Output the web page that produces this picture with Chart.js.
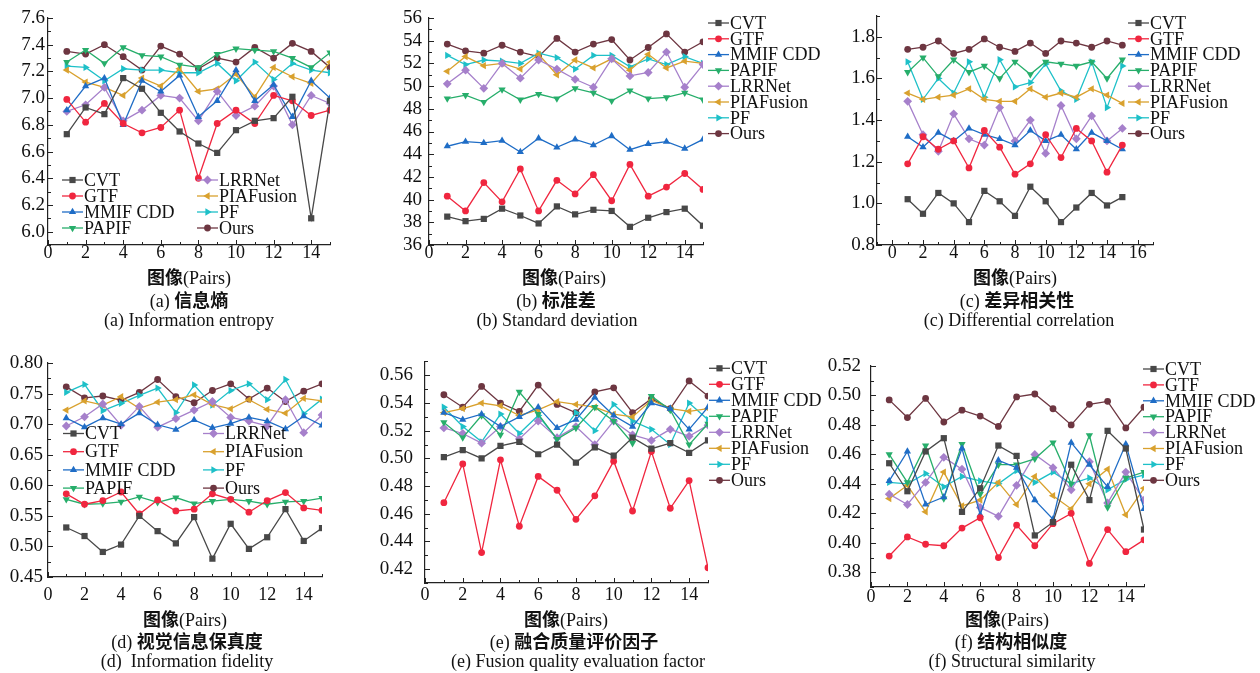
<!DOCTYPE html>
<html>
<head>
<meta charset="utf-8">
<script src="https://cdn.jsdelivr.net/npm/chart.js"></script>
<style>
  body { margin: 0; background: #fff; }
  #page { position: relative; width: 1260px; height: 673px; overflow: hidden; background: #fff;
          font-family: "Liberation Serif", "Noto Sans CJK SC", serif; color: #111; }
  canvas { position: absolute; }
  .cap { position: absolute; white-space: nowrap; transform: translateX(-50%); line-height: 20px; font-size: 18px; }
  .cn { font-family: "Noto Sans CJK SC", sans-serif; font-weight: 700; font-size: 18px; }
</style>
</head>
<body>
<div id="page">
  <canvas id="entropy"></canvas>
  <canvas id="stddev"></canvas>
  <canvas id="diffcorr"></canvas>
  <canvas id="fidelity"></canvas>
  <canvas id="quality"></canvas>
  <canvas id="ssim"></canvas>

  <div class="cap" style="left:189px;top:266px"><span class="cn">图像</span>(Pairs)</div>
  <div class="cap" style="left:189px;top:289px">(a) <span class="cn">信息熵</span></div>
  <div class="cap" style="left:189px;top:310px">(a) Information entropy</div>

  <div class="cap" style="left:564px;top:266px"><span class="cn">图像</span>(Pairs)</div>
  <div class="cap" style="left:556px;top:289px">(b) <span class="cn">标准差</span></div>
  <div class="cap" style="left:557px;top:310px">(b) Standard deviation</div>

  <div class="cap" style="left:1015px;top:266px"><span class="cn">图像</span>(Pairs)</div>
  <div class="cap" style="left:1017px;top:289px">(c) <span class="cn">差异相关性</span></div>
  <div class="cap" style="left:1019px;top:310px">(c) Differential correlation</div>

  <div class="cap" style="left:185px;top:608px"><span class="cn">图像</span>(Pairs)</div>
  <div class="cap" style="left:187px;top:630px">(d) <span class="cn">视觉信息保真度</span></div>
  <div class="cap" style="left:187px;top:651px">(d)&nbsp; Information fidelity</div>

  <div class="cap" style="left:566px;top:608px"><span class="cn">图像</span>(Pairs)</div>
  <div class="cap" style="left:574px;top:630px">(e) <span class="cn">融合质量评价因子</span></div>
  <div class="cap" style="left:578px;top:651px">(e) Fusion quality evaluation factor</div>

  <div class="cap" style="left:1007px;top:608px"><span class="cn">图像</span>(Pairs)</div>
  <div class="cap" style="left:1011px;top:630px">(f) <span class="cn">结构相似度</span></div>
  <div class="cap" style="left:1012px;top:651px">(f) Structural similarity</div>
</div>

<script>
const methods = ['CVT', 'GTF', 'MMIF CDD', 'PAPIF', 'LRRNet', 'PIAFusion', 'PF', 'Ours'];
const pairs = [1, 2, 3, 4, 5, 6, 7, 8, 9, 10, 11, 12, 13, 14, 15];

// one row per method, same order as methods
const entropyData = [
    [6.73, 6.93, 6.88, 7.15, 7.07, 6.89, 6.75, 6.66, 6.59, 6.76, 6.83, 6.85, 7.01, 6.10, 6.98],
    [6.99, 6.82, 6.96, 6.81, 6.74, 6.78, 6.91, 6.40, 6.81, 6.91, 6.81, 7.02, 6.98, 6.87, 6.91],
    [6.91, 7.09, 7.15, 6.80, 7.13, 7.05, 7.17, 6.86, 6.98, 7.21, 6.98, 7.10, 6.86, 7.13, 7.00],
    [7.27, 7.36, 7.26, 7.38, 7.32, 7.31, 7.25, 7.23, 7.33, 7.37, 7.36, 7.35, 7.30, 7.23, 7.34],
    [6.90, 6.95, 7.08, 6.83, 6.91, 7.02, 7.00, 6.83, 7.05, 6.87, 6.94, 7.09, 6.80, 7.02, 6.96],
    [7.21, 7.12, 7.08, 7.02, 7.15, 7.09, 7.22, 7.05, 7.07, 7.18, 7.01, 7.23, 7.16, 7.11, 7.27],
    [7.24, 7.23, 7.13, 7.22, 7.21, 7.21, 7.19, 7.19, 7.26, 7.13, 7.27, 7.14, 7.26, 7.21, 7.19],
    [7.35, 7.33, 7.40, 7.31, 7.21, 7.39, 7.33, 7.22, 7.30, 7.27, 7.38, 7.30, 7.41, 7.35, 7.23]
];
const stdData = [
    [38.5, 38.1, 38.3, 39.2, 38.6, 37.9, 39.4, 38.7, 39.1, 39.0, 37.6, 38.4, 38.9, 39.2, 37.7],
    [40.3, 39.0, 41.5, 39.8, 42.7, 39.0, 41.7, 40.5, 42.2, 39.9, 43.1, 40.3, 41.1, 42.3, 40.9],
    [44.7, 45.1, 45.0, 45.2, 44.2, 45.4, 44.6, 45.3, 44.8, 45.6, 44.4, 44.9, 45.1, 44.5, 45.3],
    [48.9, 49.2, 48.6, 49.7, 48.8, 49.3, 48.9, 49.8, 49.4, 48.7, 49.6, 48.9, 49.0, 49.4, 48.8],
    [50.2, 51.4, 49.8, 52.0, 50.7, 52.3, 51.5, 50.6, 49.9, 52.4, 50.9, 51.2, 53.0, 49.9, 51.9],
    [51.3, 52.6, 51.8, 52.0, 51.5, 52.8, 51.0, 52.3, 51.6, 52.4, 51.4, 52.8, 51.6, 52.2, 52.0],
    [52.7, 51.9, 52.3, 52.2, 52.0, 52.9, 52.5, 51.5, 52.7, 52.7, 51.7, 52.4, 51.9, 52.6, 52.0],
    [53.7, 53.1, 52.9, 53.6, 53.0, 52.6, 54.2, 53.0, 53.7, 54.1, 52.3, 53.4, 54.6, 53.0, 53.9]
];
const diffCorrData = [
    [1.02, 0.95, 1.05, 1.00, 0.91, 1.06, 1.01, 0.94, 1.08, 1.01, 0.91, 0.98, 1.05, 0.99, 1.03],
    [1.19, 1.32, 1.26, 1.30, 1.17, 1.35, 1.27, 1.14, 1.19, 1.33, 1.22, 1.36, 1.30, 1.15, 1.28],
    [1.32, 1.27, 1.34, 1.30, 1.36, 1.33, 1.31, 1.28, 1.35, 1.30, 1.33, 1.26, 1.34, 1.30, 1.26],
    [1.63, 1.70, 1.61, 1.69, 1.63, 1.66, 1.60, 1.68, 1.62, 1.68, 1.67, 1.66, 1.68, 1.60, 1.69],
    [1.49, 1.33, 1.25, 1.43, 1.31, 1.28, 1.46, 1.30, 1.40, 1.24, 1.47, 1.31, 1.42, 1.30, 1.36],
    [1.53, 1.50, 1.51, 1.52, 1.55, 1.50, 1.49, 1.49, 1.55, 1.51, 1.53, 1.51, 1.55, 1.52, 1.48],
    [1.68, 1.50, 1.60, 1.53, 1.68, 1.51, 1.69, 1.56, 1.58, 1.67, 1.54, 1.50, 1.68, 1.46, 1.66],
    [1.74, 1.75, 1.78, 1.72, 1.74, 1.79, 1.75, 1.73, 1.77, 1.72, 1.78, 1.77, 1.75, 1.78, 1.76]
];
const fidelityData = [
    [0.531, 0.517, 0.491, 0.503, 0.550, 0.525, 0.505, 0.548, 0.480, 0.537, 0.496, 0.515, 0.561, 0.509, 0.530],
    [0.586, 0.569, 0.575, 0.589, 0.553, 0.576, 0.558, 0.561, 0.586, 0.577, 0.556, 0.575, 0.588, 0.563, 0.559],
    [0.710, 0.695, 0.710, 0.700, 0.718, 0.699, 0.691, 0.707, 0.694, 0.701, 0.711, 0.705, 0.692, 0.713, 0.698],
    [0.577, 0.569, 0.570, 0.573, 0.581, 0.572, 0.580, 0.570, 0.574, 0.577, 0.574, 0.569, 0.573, 0.574, 0.579],
    [0.697, 0.712, 0.733, 0.698, 0.729, 0.695, 0.709, 0.723, 0.737, 0.711, 0.705, 0.697, 0.740, 0.686, 0.715],
    [0.723, 0.738, 0.731, 0.745, 0.726, 0.736, 0.740, 0.748, 0.732, 0.725, 0.740, 0.724, 0.718, 0.742, 0.738],
    [0.752, 0.765, 0.722, 0.734, 0.747, 0.759, 0.719, 0.764, 0.731, 0.755, 0.766, 0.740, 0.773, 0.717, 0.741],
    [0.761, 0.743, 0.746, 0.739, 0.752, 0.773, 0.745, 0.735, 0.755, 0.766, 0.741, 0.759, 0.737, 0.754, 0.766]
];
const qualityData = [
    [0.501, 0.506, 0.500, 0.509, 0.512, 0.503, 0.510, 0.497, 0.508, 0.502, 0.515, 0.507, 0.511, 0.504, 0.513],
    [0.468, 0.496, 0.432, 0.499, 0.451, 0.487, 0.477, 0.456, 0.473, 0.498, 0.462, 0.505, 0.464, 0.484, 0.421],
    [0.533, 0.528, 0.532, 0.523, 0.530, 0.537, 0.522, 0.528, 0.544, 0.531, 0.523, 0.540, 0.536, 0.521, 0.537],
    [0.526, 0.515, 0.531, 0.517, 0.548, 0.532, 0.514, 0.522, 0.537, 0.527, 0.511, 0.545, 0.535, 0.510, 0.525],
    [0.522, 0.518, 0.511, 0.523, 0.514, 0.527, 0.515, 0.523, 0.510, 0.527, 0.517, 0.513, 0.521, 0.516, 0.524],
    [0.533, 0.536, 0.540, 0.538, 0.531, 0.535, 0.541, 0.539, 0.537, 0.532, 0.530, 0.542, 0.536, 0.534, 0.536],
    [0.537, 0.523, 0.512, 0.532, 0.518, 0.531, 0.514, 0.533, 0.520, 0.539, 0.527, 0.521, 0.510, 0.540, 0.528],
    [0.546, 0.537, 0.552, 0.540, 0.534, 0.553, 0.539, 0.533, 0.548, 0.551, 0.533, 0.543, 0.536, 0.556, 0.545]
];
const ssimData = [
    [0.454, 0.435, 0.462, 0.471, 0.421, 0.437, 0.466, 0.459, 0.405, 0.414, 0.453, 0.429, 0.476, 0.464, 0.409],
    [0.391, 0.404, 0.399, 0.398, 0.410, 0.417, 0.390, 0.412, 0.398, 0.413, 0.420, 0.386, 0.409, 0.394, 0.402],
    [0.442, 0.462, 0.426, 0.431, 0.464, 0.419, 0.456, 0.451, 0.429, 0.416, 0.468, 0.453, 0.438, 0.467, 0.423],
    [0.460, 0.441, 0.466, 0.430, 0.467, 0.433, 0.453, 0.453, 0.457, 0.468, 0.440, 0.473, 0.424, 0.444, 0.448],
    [0.433, 0.426, 0.441, 0.458, 0.450, 0.424, 0.418, 0.439, 0.460, 0.451, 0.436, 0.455, 0.427, 0.448, 0.429],
    [0.430, 0.439, 0.421, 0.448, 0.425, 0.429, 0.441, 0.426, 0.445, 0.432, 0.423, 0.440, 0.450, 0.419, 0.437],
    [0.441, 0.440, 0.447, 0.438, 0.445, 0.442, 0.440, 0.449, 0.441, 0.448, 0.440, 0.444, 0.436, 0.443, 0.446],
    [0.497, 0.485, 0.498, 0.482, 0.490, 0.486, 0.479, 0.499, 0.501, 0.491, 0.480, 0.494, 0.496, 0.478, 0.492]
];

// tick labels
const pairTicks = [0, 2, 4, 6, 8, 10, 12, 14];
const pairTicks16 = [0, 2, 4, 6, 8, 10, 12, 14, 16];
const entropyTicks = [6.0, 6.2, 6.4, 6.6, 6.8, 7.0, 7.2, 7.4, 7.6];
const stdTicks = [36, 38, 40, 42, 44, 46, 48, 50, 52, 54, 56];
const diffCorrTicks = [0.8, 1.0, 1.2, 1.4, 1.6, 1.8];
const fidelityTicks = [0.45, 0.50, 0.55, 0.60, 0.65, 0.70, 0.75, 0.80];
const qualityTicks = [0.42, 0.44, 0.46, 0.48, 0.50, 0.52, 0.54, 0.56];
const ssimTicks = [0.38, 0.40, 0.42, 0.44, 0.46, 0.48, 0.50, 0.52];

// line styles
const colors = ['#484848', '#f0263f', '#1f6dc6', '#27ae6b', '#a680cb', '#d9a12e', '#1ec0c8', '#6d3641'];
const markers = ['rect', 'circle', 'triangle', 'triangle', 'rectRot', 'triangle', 'triangle', 'circle'];
const rotations = [0, 0, 0, 180, 0, 270, 90, 0];
const radii = [4.4, 3.4, 4.2, 4.2, 4.4, 4.2, 4.2, 3.4];

const serif = "'Liberation Serif', 'Times New Roman', serif";
Chart.defaults.font.family = serif;
Chart.defaults.color = '#111';

function drawMarker(ctx, style, rot, x, y, r, color) {
    ctx.save();
    ctx.translate(x, y);
    ctx.rotate(rot * Math.PI / 180);
    ctx.fillStyle = color;
    ctx.beginPath();
    if (style === 'circle') {
        ctx.arc(0, 0, r, 0, Math.PI * 2);
    } else if (style === 'rect') {
        const s = r * Math.SQRT1_2;
        ctx.rect(-s, -s, 2 * s, 2 * s);
    } else if (style === 'rectRot') {
        ctx.moveTo(0, -r); ctx.lineTo(r, 0); ctx.lineTo(0, r); ctx.lineTo(-r, 0); ctx.closePath();
    } else {
        for (let k = 0; k < 3; k++) {
            const a = -Math.PI / 2 + k * 2 * Math.PI / 3;
            if (k === 0) ctx.moveTo(Math.cos(a) * r, Math.sin(a) * r);
            else ctx.lineTo(Math.cos(a) * r, Math.sin(a) * r);
        }
        ctx.closePath();
    }
    ctx.fill();
    ctx.restore();
}

// legend drawn by hand so it can sit anywhere, in one or two columns
const panelLegend = {
    id: 'panelLegend',
    afterDatasetsDraw(chart, args, opts) {
        const { ctx } = chart;
        ctx.save();
        ctx.font = '18px ' + serif;
        ctx.textBaseline = 'middle';
        ctx.textAlign = 'left';
        chart.data.datasets.forEach((ds, i) => {
            const col = Math.floor(i / opts.perCol);
            const x = opts.x[col];
            const y = opts.y + (i % opts.perCol) * opts.rowH;
            ctx.strokeStyle = ds.borderColor;
            ctx.lineWidth = ds.borderWidth;
            ctx.beginPath();
            ctx.moveTo(x, y);
            ctx.lineTo(x + 21, y);
            ctx.stroke();
            drawMarker(ctx, ds.pointStyle, ds.pointRotation, x + 10.5, y, ds.pointRadius, ds.borderColor);
            ctx.fillStyle = '#111';
            ctx.fillText(ds.label, x + 22, y + 1);
        });
        ctx.restore();
    }
};

// major + minor tick marks pointing into the plot
const inwardTicks = {
    id: 'inwardTicks',
    afterDraw(chart, args, opts) {
        const { ctx, chartArea: { left, bottom }, scales: { x, y } } = chart;
        ctx.save();
        ctx.strokeStyle = '#222';
        ctx.lineWidth = 1;
        const mark = (scale, values, len) => values.forEach(v => {
            if (v < scale.min - 1e-9 || v > scale.max + 1e-9) return;
            const p = Math.round(scale.getPixelForValue(v)) + 0.5;
            ctx.beginPath();
            if (scale.isHorizontal()) { ctx.moveTo(p, bottom); ctx.lineTo(p, bottom - len); }
            else { ctx.moveTo(left, p); ctx.lineTo(left + len, p); }
            ctx.stroke();
        });
        const minors = (vals) => {
            const step = vals[1] - vals[0];
            const out = [vals[0] - step / 2];
            vals.forEach(v => out.push(v + step / 2));
            return out;
        };
        mark(x, opts.xTicks, 5);
        mark(x, minors(opts.xTicks), 3);
        mark(y, opts.yTicks, 5);
        mark(y, minors(opts.yTicks), 3);
        ctx.restore();
    }
};

function createPanel(p) {
    const canvas = document.getElementById(p.id);
    const [cl, ct, cr, cb] = p.canvas;
    const [al, at, ar, ab] = p.area;
    canvas.width = cr - cl;
    canvas.height = cb - ct;
    canvas.style.left = cl + 'px';
    canvas.style.top = ct + 'px';

    const datasets = methods.map((name, i) => ({
        label: name,
        data: pairs.map((x, j) => ({ x: x, y: p.values[i][j] })),
        borderColor: colors[i],
        backgroundColor: colors[i],
        pointBackgroundColor: colors[i],
        pointBorderColor: colors[i],
        pointBorderWidth: 0,
        pointStyle: markers[i],
        pointRotation: rotations[i],
        pointRadius: radii[i],
        borderWidth: 1.3,
        tension: 0
    }));

    const config = {
        type: 'line',
        data: { datasets },
        options: {
            responsive: false,
            animation: false,
            events: [],
            layout: { padding: { top: at - ct, right: cr - ar, left: 0, bottom: 0 } },
            plugins: {
                legend: { display: false },
                tooltip: { enabled: false },
                panelLegend: {
                    x: p.legend.x.map(v => v - cl),
                    y: p.legend.y - ct,
                    rowH: p.legend.rowH,
                    perCol: p.legend.perCol
                },
                inwardTicks: { xTicks: p.xTicks, yTicks: p.yTicks }
            },
            scales: {
                x: {
                    type: 'linear',
                    min: p.xRange[0],
                    max: p.xRange[1],
                    grid: { display: false, drawTicks: false },
                    border: { display: true, color: '#222', width: 1.2 },
                    ticks: { color: '#111', padding: p.xPad, font: { family: serif, size: 18, lineHeight: 1 } },
                    afterBuildTicks: s => { s.ticks = p.xTicks.map(v => ({ value: v })); },
                    afterFit: s => { s.height = cb - ab; }
                },
                y: {
                    type: 'linear',
                    min: p.yRange[0],
                    max: p.yRange[1],
                    grid: { display: false, drawTicks: false },
                    border: { display: true, color: '#222', width: 1.2 },
                    ticks: {
                        color: '#111',
                        padding: p.yPad,
                        font: { family: serif, size: 19, lineHeight: 1 },
                        callback: v => v.toFixed(p.dec)
                    },
                    afterBuildTicks: s => { s.ticks = p.yTicks.map(v => ({ value: v })); },
                    afterFit: s => { s.width = al - cl; }
                }
            }
        },
        plugins: [panelLegend, inwardTicks]
    };

    return new Chart(canvas, config);
}

createPanel({
    id: 'entropy', canvas: [0, 0, 345, 282], area: [48, 18, 330, 245],
    xRange: [0, 15], xTicks: pairTicks, xPad: -1,
    yRange: [5.9, 7.6], yTicks: entropyTicks, dec: 1, yPad: 3,
    values: entropyData,
    legend: { x: [62, 197], y: 180, rowH: 16, perCol: 4 }
});
createPanel({
    id: 'stddev', canvas: [377, 0, 840, 282], area: [429, 18, 703, 245],
    xRange: [0, 15], xTicks: pairTicks, xPad: -1,
    yRange: [36, 56], yTicks: stdTicks, dec: 0, yPad: 7,
    values: stdData,
    legend: { x: [708], y: 23, rowH: 15.8, perCol: 8 }
});
createPanel({
    id: 'diffcorr', canvas: [825, 0, 1260, 282], area: [877, 16, 1153, 245],
    xRange: [-1, 17], xTicks: pairTicks16, xPad: -1,
    yRange: [0.8, 1.9], yTicks: diffCorrTicks, dec: 1, yPad: 2,
    values: diffCorrData,
    legend: { x: [1128], y: 23, rowH: 15.8, perCol: 8 }
});
createPanel({
    id: 'fidelity', canvas: [0, 340, 345, 612], area: [48, 363, 322, 577],
    xRange: [0, 15], xTicks: pairTicks, xPad: 9,
    yRange: [0.45, 0.80], yTicks: fidelityTicks, dec: 2, yPad: 5,
    values: fidelityData,
    legend: { x: [63, 203], y: 433.5, rowH: 18.2, perCol: 4 }
});
createPanel({
    id: 'quality', canvas: [373, 340, 840, 612], area: [425, 355, 708, 583],
    xRange: [0, 15], xTicks: pairTicks, xPad: 3,
    yRange: [0.41, 0.57], yTicks: qualityTicks, dec: 2, yPad: 12,
    values: qualityData,
    legend: { x: [709], y: 368.3, rowH: 16, perCol: 8 }
});
createPanel({
    id: 'ssim', canvas: [819, 340, 1260, 612], area: [871, 366, 1144, 587],
    xRange: [0, 15], xTicks: pairTicks, xPad: 1,
    yRange: [0.37, 0.52], yTicks: ssimTicks, dec: 2, yPad: 10,
    values: ssimData,
    legend: { x: [1143], y: 369, rowH: 15.9, perCol: 8 }
});
</script>
</body>
</html>
